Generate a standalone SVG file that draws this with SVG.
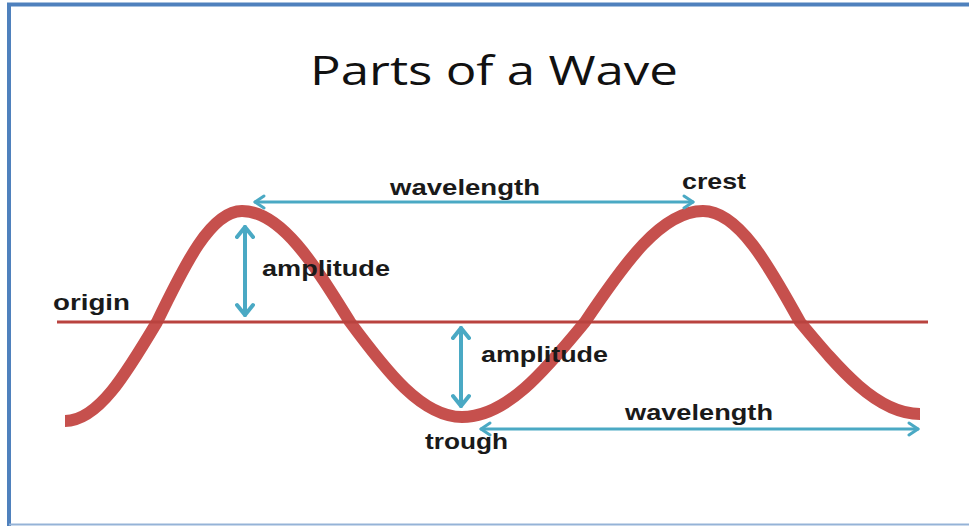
<svg xmlns="http://www.w3.org/2000/svg" width="969" height="526" viewBox="0 0 969 526">
  <style>
    .lbl { font-family: "Liberation Sans", Arial, sans-serif; font-weight: bold; font-size: 22px; fill: #1a1a1a; }
    .title { font-family: "Open Sans", "Liberation Sans", sans-serif; font-size: 40px; fill: #111111; }
    .arrow { stroke: #4aa9c4; fill: none; stroke-linecap: round; }
    .frame { stroke: #4f81bd; fill: none; }
  </style>
  <defs>
    <marker id="headH" markerUnits="userSpaceOnUse" viewBox="-12 -8 14 16" markerWidth="14" markerHeight="16" refX="0" refY="0" orient="auto-start-reverse">
      <path d="M-9,-6 L0,0 L-9,6" fill="none" stroke="#4aa9c4" stroke-width="3" stroke-linecap="round" stroke-linejoin="round"/>
    </marker>
    <marker id="headV" markerUnits="userSpaceOnUse" viewBox="-14 -10 16 20" markerWidth="16" markerHeight="20" refX="0" refY="0" orient="auto-start-reverse">
      <path d="M-10,-8 L0,0 L-10,8" fill="none" stroke="#4aa9c4" stroke-width="4" stroke-linecap="round" stroke-linejoin="round"/>
    </marker>
  </defs>
  <rect width="969" height="526" fill="#ffffff"/>
  <g id="frame">
    <line class="frame" x1="7" y1="4.5" x2="969" y2="4.5" stroke-width="4"/>
    <line class="frame" x1="9" y1="3" x2="9" y2="526" stroke-width="4"/>
    <line x1="9" y1="524.5" x2="969" y2="524.5" stroke="#95b3d7" stroke-width="2"/>
  </g>
  <g id="title">
    <text class="title" x="310" y="85" textLength="368" lengthAdjust="spacingAndGlyphs">Parts of a Wave</text>
  </g>
  <g id="wave">
    <path d="M65,421 C98,421 126,374 157,322 C185,264 211,211 242,211 C281,211 314,264 350,322 C387,372 422,417 462,417 C506,417 544,372 585,322 C624,264 661,211 703,211 C738,211 768,264 800,322 C840,370 877,414 920,414" fill="none" stroke="#c6504d" stroke-width="12" stroke-linecap="butt"/>
  </g>
  <g id="origin-line">
    <line x1="57" y1="322" x2="928" y2="322" stroke="#b9433f" stroke-width="3"/>
  </g>
  <g id="connectors">
    <line class="arrow" x1="255" y1="202" x2="693" y2="202" stroke-width="3" marker-start="url(#headH)" marker-end="url(#headH)"/>
    <line class="arrow" x1="481" y1="429" x2="918" y2="429" stroke-width="3" marker-start="url(#headH)" marker-end="url(#headH)"/>
    <line class="arrow" x1="245" y1="227" x2="245" y2="315" stroke-width="4" marker-start="url(#headV)" marker-end="url(#headV)"/>
    <line class="arrow" x1="461" y1="328" x2="461" y2="406" stroke-width="4" marker-start="url(#headV)" marker-end="url(#headV)"/>
  </g>
  <g id="label-wavelength-top">
    <text class="lbl" x="390" y="195" textLength="150" lengthAdjust="spacingAndGlyphs">wavelength</text>
  </g>
  <g id="label-crest">
    <text class="lbl" x="682" y="189" textLength="64" lengthAdjust="spacingAndGlyphs">crest</text>
  </g>
  <g id="label-amplitude-1">
    <text class="lbl" x="262" y="276" textLength="128" lengthAdjust="spacingAndGlyphs">amplitude</text>
  </g>
  <g id="label-origin">
    <text class="lbl" x="53" y="310" textLength="77" lengthAdjust="spacingAndGlyphs">origin</text>
  </g>
  <g id="label-amplitude-2">
    <text class="lbl" x="481" y="362" textLength="127" lengthAdjust="spacingAndGlyphs">amplitude</text>
  </g>
  <g id="label-wavelength-bottom">
    <text class="lbl" x="625" y="420" textLength="148" lengthAdjust="spacingAndGlyphs">wavelength</text>
  </g>
  <g id="label-trough">
    <text class="lbl" x="425" y="449" textLength="83" lengthAdjust="spacingAndGlyphs">trough</text>
  </g>
</svg>
